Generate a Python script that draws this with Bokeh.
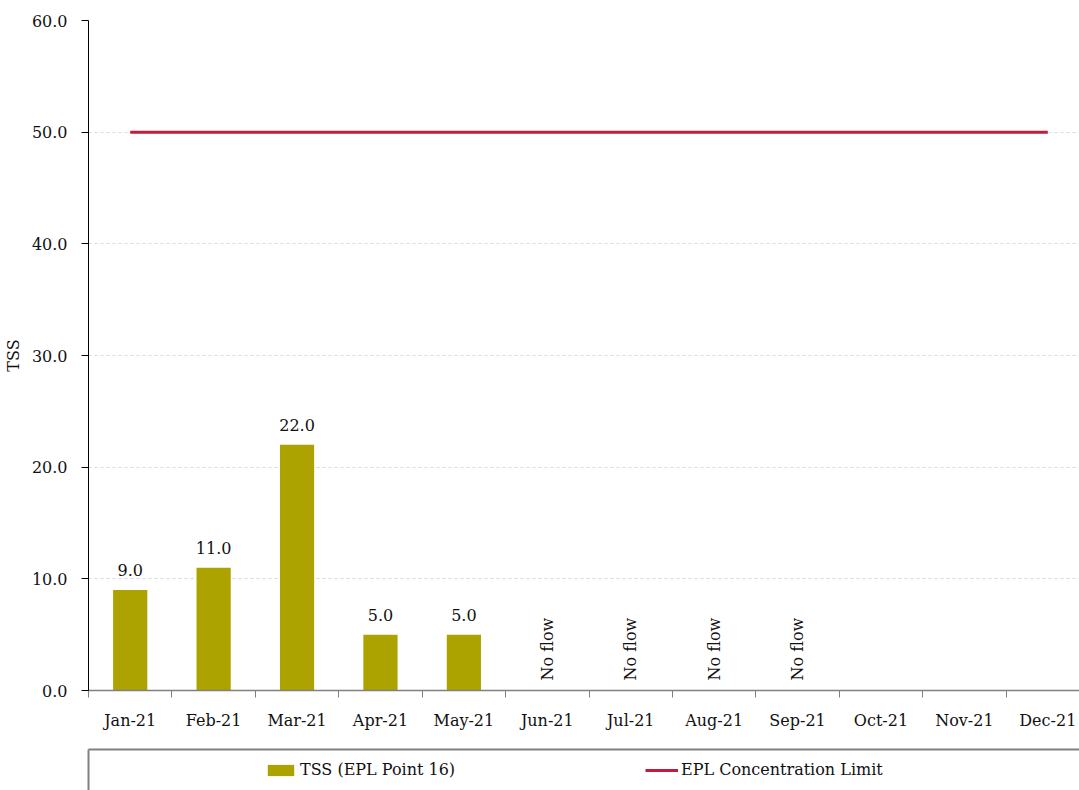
import math
from bokeh.plotting import figure
from bokeh.layouts import column
from bokeh.models import (Range1d, LinearAxis, FixedTicker, NumeralTickFormatter,
                          Legend, LegendItem, ColumnDataSource)
from bokeh.core.properties import value
from bokeh.embed import file_html
from bokeh.resources import INLINE

# ---- data ----
months = ["Jan-21", "Feb-21", "Mar-21", "Apr-21", "May-21", "Jun-21",
          "Jul-21", "Aug-21", "Sep-21", "Oct-21", "Nov-21", "Dec-21"]
tss = [9.0, 11.0, 22.0, 5.0, 5.0, None, None, None, None, None, None, None]
no_flow = ["", "", "", "", "", "No flow", "No flow", "No flow", "No flow", "", "", ""]
epl_limit = [50.0] * 12
y_ticks = [0, 10, 20, 30, 40, 50, 60]
series_names = ["TSS (EPL Point 16)", "EPL Concentration Limit"]

FONT = "DejaVu Serif"
FS = "16px"
BAR_COLOR = "#ADA300"
LINE_COLOR = "#BE1E3C"
TEXT_COLOR = "#111111"
GREY = "#808080"

xs = [i + 0.5 for i in range(len(months))]

p = figure(width=1079, height=748,
           x_range=Range1d(0, 11.88), y_range=Range1d(0, 60),
           x_axis_type=None, output_backend="svg", toolbar_location=None,
           min_border_left=88, min_border_right=0, min_border_top=20,
           min_border_bottom=58)
p.outline_line_color = None
p.background_fill_color = "white"

bar_src = ColumnDataSource(dict(
    x=[xs[i] for i, v in enumerate(tss) if v is not None],
    top=[v for v in tss if v is not None],
    label=[f"{v:.1f}" for v in tss if v is not None],
))
bars = p.vbar(x="x", top="top", width=0.41, source=bar_src,
              fill_color=BAR_COLOR, line_color=None)
p.text(x="x", y="top", text="label", source=bar_src,
       text_align="center", text_baseline="alphabetic", y_offset=-20,
       text_font=value(FONT), text_font_size=FS, text_color=TEXT_COLOR)

nf_src = ColumnDataSource(dict(
    x=[xs[i] for i, t in enumerate(no_flow) if t],
    y=[0 for t in no_flow if t],
    text=[t for t in no_flow if t],
))
p.text(x="x", y="y", text="text", source=nf_src, angle=math.pi / 2,
       text_align="left", text_baseline="middle", y_offset=-10,
       text_font=value(FONT), text_font_size=FS, text_color=TEXT_COLOR)

lim_src = ColumnDataSource(dict(x=xs, y=epl_limit))
lim = p.line(x="x", y="y", source=lim_src, line_color=LINE_COLOR, line_width=3)

# y axis
yax = p.yaxis[0]
yax.ticker = FixedTicker(ticks=y_ticks)
yax.formatter = NumeralTickFormatter(format="0.0")
yax.axis_label = "TSS"
yax.axis_label_text_font = FONT
yax.axis_label_text_font_size = FS
yax.axis_label_text_font_style = "normal"
yax.axis_label_text_color = TEXT_COLOR
yax.axis_label_standoff = 6
yax.major_label_text_font = FONT
yax.major_label_text_font_size = FS
yax.major_label_text_color = TEXT_COLOR
yax.major_label_standoff = 14
yax.major_tick_in = 0
yax.major_tick_out = 7
yax.minor_tick_line_color = None
yax.axis_line_color = "#000000"
yax.major_tick_line_color = "#000000"

p.ygrid.ticker = FixedTicker(ticks=y_ticks)
p.ygrid.grid_line_color = "#d9d9d9"
p.ygrid.grid_line_dash = "3 3"
p.xgrid.grid_line_color = None

# x axis: tick marks at category boundaries
ax_ticks = LinearAxis(ticker=FixedTicker(ticks=list(range(13))),
                      major_label_overrides={i: "" for i in range(13)},
                      major_label_text_font_size="0px", major_label_standoff=0,
                      major_tick_in=0, major_tick_out=7,
                      minor_tick_line_color=None,
                      axis_line_color=GREY, major_tick_line_color=GREY,
                      axis_line_width=1.5)
p.add_layout(ax_ticks, "below")
# x axis: month labels at category centers
ax_labels = LinearAxis(ticker=FixedTicker(ticks=xs),
                       major_label_overrides={x: m for x, m in zip(xs, months)},
                       axis_line_color=None, major_tick_line_color=None,
                       minor_tick_line_color=None, major_tick_in=0, major_tick_out=0,
                       major_label_standoff=13,
                       major_label_text_font=FONT, major_label_text_font_size=FS,
                       major_label_text_color=TEXT_COLOR)
p.add_layout(ax_labels, "below")

# ---- legend strip (its own small figure, framed on top and left) ----
# proxies reuse the real data sources; the strip's x range lies beyond the data,
# so only their legend swatches are visible
lg = figure(width=1079, height=42, x_range=Range1d(100, 101), y_range=Range1d(0, 1),
            x_axis_type=None, y_axis_type=None,
            output_backend="svg", toolbar_location=None,
            min_border_left=85, min_border_right=0, min_border_top=1,
            min_border_bottom=0)
lg.outline_line_color = None
lg.background_fill_color = "white"
for loc in ("left", "above"):
    lg.add_layout(LinearAxis(ticker=FixedTicker(ticks=[]),
                             major_tick_in=0, major_tick_out=0,
                             minor_tick_line_color=None,
                             major_label_text_font_size="0px",
                             axis_line_color=GREY, axis_line_width=2), loc)

lg_bar = lg.vbar(x="x", top="top", width=0.41, source=bar_src,
                 fill_color=BAR_COLOR, line_color=None)
lg_line = lg.line(x="x", y="y", source=lim_src, line_color=LINE_COLOR, line_width=3)

legend = Legend(items=[LegendItem(label=series_names[0], renderers=[lg_bar]),
                       LegendItem(label=series_names[1], renderers=[lg_line])],
                orientation="horizontal", location=(176, 11),
                padding=0, margin=0, spacing=131, label_width=214,
                glyph_width=33, glyph_height=14, label_standoff=3,
                label_text_font=FONT, label_text_font_size=FS,
                label_text_color=TEXT_COLOR,
                border_line_color=None, background_fill_alpha=0)
lg.add_layout(legend, "center")

layout = column(p, lg, spacing=0)

open("out.html", "w").write(file_html(layout, INLINE))
